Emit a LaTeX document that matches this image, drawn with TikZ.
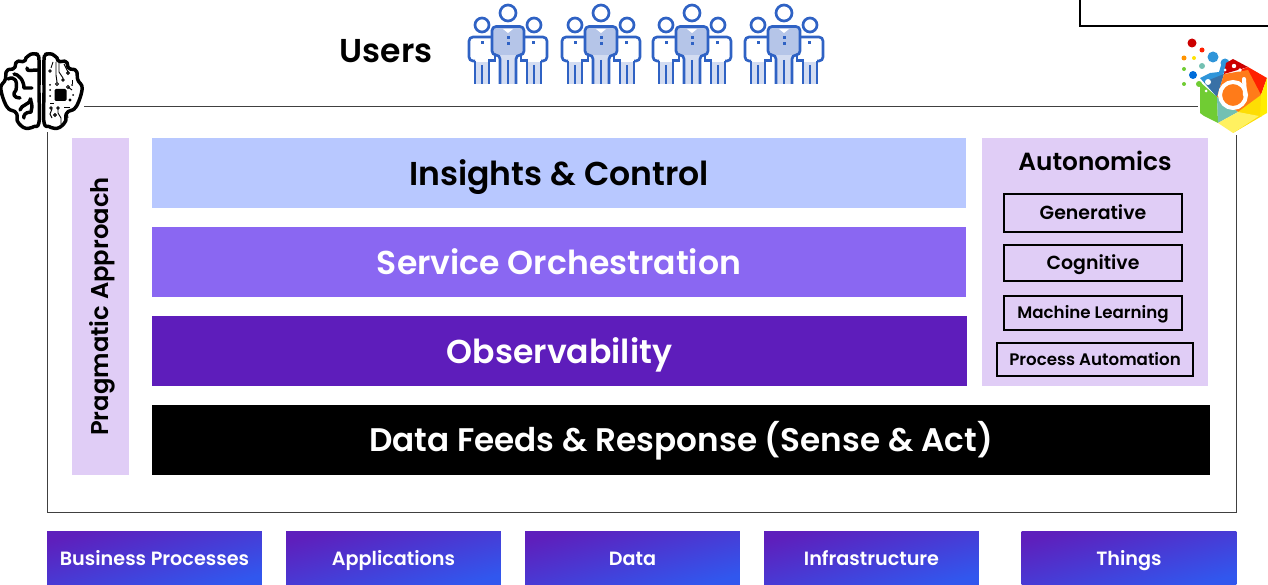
\documentclass[tikz,border=0pt]{standalone}
\usepackage{fontspec}
\usepackage{xcolor}
\setmainfont{Poppins}[BoldFont={Poppins SemiBold}]
\usetikzlibrary{arrows,positioning,shapes}
\definecolor{insightsblue}{HTML}{B8C8FF}
\definecolor{servicepurple}{HTML}{8A67F2}
\definecolor{obspurple}{HTML}{5E1DBB}
\definecolor{panellilac}{HTML}{E0CDF6}
\definecolor{gradstart}{HTML}{5E1FBC}
\definecolor{gradend}{HTML}{3157EE}
\definecolor{usersblue}{HTML}{2F62C4}
\definecolor{userslight}{HTML}{B5C5E8}
\newcommand{\txt}[1]{\fontsize{#1}{#1}\selectfont\bfseries}
\tikzset{
    textsize/.style 2 args={font=\txt{#1}, text height=#2pt, text depth=0pt},
    layerbar/.style={rectangle, inner sep=0pt, text=white, textsize={24.8}{19.4}},
    innerbox/.style={rectangle, inner sep=0pt, draw=black, line width=0.9pt, textsize={14.2}{9.9}},
    sourcebox/.style={rectangle, inner sep=0pt, minimum width=161pt, minimum height=40.5pt, text=white,
        left color=gradstart, right color=gradend, shading angle=15, textsize={14.4}{11.8}},
    teamline/.style={draw=usersblue, line width=2pt, line cap=butt},
    brainline/.style={draw=black, line width=2.6pt, line join=round, line cap=round},
    circuit/.style={draw=black, line width=0.7pt}
}
\begin{document}
\begin{tikzpicture}[x=0.75pt, y=-0.75pt]
    \useasboundingbox (0,0) rectangle (1268,585);
    \clip (0,0) rectangle (1268,585);

    \node (corner_box) [draw=black, line width=1.5pt, minimum width=225pt, minimum height=38.5pt, inner sep=0pt, shift={(1230, 0)}] {};
    \node (main_frame) [draw=black!75, line width=0.6pt, minimum width=892pt, minimum height=304.5pt, inner sep=0pt, shift={(642, 309.7)}] {};

    \node (users_label) [inner sep=0pt, textsize={24.8}{17.4}, shift={(386, 51)}]
    {
        Users
    };

    \node (pragmatic_approach) [rectangle, inner sep=0pt, fill=panellilac, minimum width=42.75pt, minimum height=252.75pt, shift={(100.5, 306.5)}] {};
    \node (pragmatic_label) [inner sep=0pt, textsize={18.2}{12.7}, text=black, rotate=90, at={(100, 306.5)}]
    {
        Pragmatic Approach
    };
    \node (insights_control) [layerbar, text=black, fill=insightsblue, minimum width=610.5pt, minimum height=52.5pt, shift={(559, 173)}]
    {
        Insights \& Control
    };
    \node (service_orchestration) [layerbar, fill=servicepurple, minimum width=610.5pt, minimum height=52.5pt, shift={(559, 262)}]
    {
        Service Orchestration
    };
    \node (observability) [layerbar, textsize={24.8}{18}, fill=obspurple, minimum width=611.25pt, minimum height=52.5pt, shift={(559.5, 351)}]
    {
        Observability
    };
    \node (data_feeds) [layerbar, textsize={24.5}{17.2}, fill=black, minimum width=793.5pt, minimum height=52.5pt, shift={(681, 440)}]
    {
        Data Feeds \& Response (Sense \& Act)
    };

    \node (autonomics_panel) [rectangle, inner sep=0pt, fill=panellilac, minimum width=169.5pt, minimum height=186pt, shift={(1095, 262)}] {};
    \node (autonomics_label) [inner sep=0pt, textsize={18.6}{14.4}, shift={(1095, 161)}]
    {
        Autonomics
    };
    \node (generative) [innerbox, minimum width=133.5pt, minimum height=28.5pt, shift={(1093, 213)}]
    {
        Generative
    };
    \node (cognitive) [innerbox, minimum width=133.5pt, minimum height=27pt, shift={(1093, 263)}]
    {
        Cognitive
    };
    \node (machine_learning) [innerbox, textsize={12.5}{8.8}, minimum width=133.5pt, minimum height=25.5pt, shift={(1093, 313)}]
    {
        Machine Learning
    };
    \node (process_automation) [innerbox, textsize={12.5}{8.8}, minimum width=147pt, minimum height=24.75pt, shift={(1095, 359.5)}]
    {
        Process Automation
    };

    \node (business_processes) [sourcebox, shift={(154.5, 558)}]
    {
        Business Processes
    };
    \node (applications) [sourcebox, shift={(393.5, 558)}]
    {
        Applications
    };
    \node (data) [sourcebox, shift={(632.5, 558)}]
    {
        Data
    };
    \node (infrastructure) [sourcebox, shift={(871.5, 558)}]
    {
        Infrastructure
    };
    \node (things) [sourcebox, shift={(1129, 558)}]
    {
        Things
    };

    % users
    \foreach \teamx in {468, 561, 652, 744} {
        \begin{scope}[shift={(\teamx, 0)}]
            \fill[userslight] (24,30) -- (26,27) -- (54,27) -- (56,30) -- (56,55) -- (24,55) -- cycle;
            \fill[userslight!60] (32,55) rectangle (48,84);
            \fill[userslight!60] (7,62) rectangle (21,84);
            \fill[userslight!60] (59,62) rectangle (73,84);
            \draw[teamline] (40,13) circle (8);
            \draw[teamline] (14,25) circle (7);
            \draw[teamline] (66,25) circle (7);
            \draw[teamline, rounded corners=3] (32,84) -- (32,55) -- (24,55) -- (24,26.5) -- (56,26.5) -- (56,55) -- (48,55) -- (48,84);
            \draw[teamline] (40,60) -- (40,84);
            \draw[teamline, rounded corners=3] (24,37) -- (1,37) -- (1,61) -- (7,61);
            \draw[teamline] (7,61) -- (7,84);
            \draw[teamline] (14,65) -- (14,84);
            \draw[teamline] (21,84) -- (21,60.5) -- (27,60.5) -- (27,55);
            \draw[teamline, rounded corners=3] (56,37) -- (79,37) -- (79,61) -- (73,61);
            \draw[teamline] (73,61) -- (73,84);
            \draw[teamline] (66,65) -- (66,84);
            \draw[teamline] (59,84) -- (59,60.5) -- (53,60.5) -- (53,55);
            \fill[white] (35,29) -- (45,29) -- (40,33) -- cycle;
            \fill[usersblue] (38.5,36) rectangle (41.5,39);
            \fill[usersblue] (38.5,42) rectangle (41.5,45);
            \fill[usersblue] (13,41) rectangle (16,44);
            \fill[usersblue] (64,41) rectangle (67,44);
        \end{scope}
    }

    % brain
    \fill[white] (-3,50) rectangle (84,132);
    \draw[brainline, rounded corners=1] plot[smooth cycle, tension=0.55] coordinates {(39,60) (37,55) (32,54) (27,57) (24,61) (17,62) (14,68) (7,71) (5,80) (1,87) (3,98) (8,108) (16,113) (18,122) (25,128) (33,127) (39,122) (39,90)};
    \draw[brainline, rounded corners=1] plot[smooth cycle, tension=0.55] coordinates {(44,60) (46,55) (51,54) (56,57) (59,61) (66,62) (69,68) (76,71) (78,80) (82,87) (80,98) (75,108) (67,113) (65,122) (58,128) (50,127) (44,122) (44,90)};
    \draw[brainline] (38,70) .. controls (30,70) and (27,72) .. (27,68);
    \draw[brainline] (8,79) .. controls (14,76) and (18,80) .. (16,90) .. controls (12,94) and (14,98) .. (20,98);
    \draw[brainline] (14,74) .. controls (18,74) and (24,80) .. (24,88) -- (32,88);
    \draw[brainline] (31,99) .. controls (28,106) and (22,104) .. (20,110);
    \draw[brainline] (30,99) .. controls (33,106) and (32,108) .. (31,112) .. controls (25,112) and (23,116) .. (24,118);
    \node (brain_chip) [rectangle, fill=black, inner sep=0pt, minimum size=9pt, rounded corners=1pt, shift={(60.5, 95)}] {};
    \draw[circuit] (56,62) -- (56,75) -- (57,82);
    \draw[circuit] (59,62) -- (59,72) -- (63,78) -- (63,80);
    \draw[circuit] (64,64) -- (68,72);
    \draw[circuit] (53,62) -- (51,68);
    \draw[circuit] (50,71) circle (1.2);
    \draw[circuit] (57,84) circle (1.5);
    \draw[circuit] (63,80) circle (1.3);
    \draw[circuit] (68,73) circle (1.4);
    \draw[circuit] (68,87) -- (72,90);
    \draw[circuit] (68,87) circle (1.5);
    \draw[circuit] (72,80) -- (72,84);
    \draw[circuit] (70,100) circle (1);
    \draw[circuit] (50,103) -- (54,103);
    \draw[circuit] (52,109) -- (50,114) -- (52,118);
    \draw[circuit] (58,109) -- (58,113) -- (61,118) -- (61,124);
    \draw[circuit] (55,115) circle (1.4);
    \draw[circuit] (58,108) circle (1.3);
    \draw[circuit] (51,108) circle (1.3);
    \draw[circuit] (64,107) -- (70,107);
    \draw[circuit] (67,112) -- (68,118);
    \fill (50,85) circle (1) (50,90) circle (1) (50,96) circle (1) (73,95) circle (1) (72,85) circle (1);

    % logo
    \fill[white] (1198,70) rectangle (1268,135);
    \fill[red!80!black] (1192,43) circle (4.5);
    \fill[red!75!orange] (1202,50) circle (2.5);
    \fill[orange!85!yellow] (1184,58) circle (2.5);
    \fill[yellow!85!orange] (1194,58) circle (2);
    \fill[cyan!70!blue!85] (1213,57) circle (5.5);
    \fill[green!55!blue!55] (1202,66) circle (3);
    \fill[green!60!yellow!60!gray] (1184,69) circle (2);
    \fill[blue!50!cyan!85!black] (1193,75) circle (4);
    \fill[green!60!yellow!60!gray] (1184,84) circle (2);
    \fill[green!60!yellow!60!gray] (1199,84) circle (3);
    \fill[cyan!70!blue!85] (1225,63) circle (4.5);
    \fill[cyan!70!blue!85] (1200,78) -- (1210,73) -- (1219,72) -- (1222,62) -- (1228,66) -- (1222,76) -- (1217,97) -- cycle;
    \fill[cyan!60!blue!75!black] (1204,82) -- (1224,74) -- (1217,97) -- cycle;
    \fill[red!80!black] (1233,59) -- (1248,67) -- (1224,74) -- (1226,63) -- cycle;
    \fill[red!75!orange] (1248,67) -- (1267,78) -- (1261,95) -- (1240,70) -- cycle;
    \fill[orange!85!red!90!white] (1224,74) -- (1248,70) -- (1261,95) -- (1259,109) -- (1238,112) -- (1217,97) -- cycle;
    \fill[yellow!80!orange] (1261,95) -- (1262,116) -- (1233,133) -- (1238,112) -- cycle;
    \fill[yellow!95!orange] (1267,78) -- (1267,113) -- (1260,117) -- (1261,95) -- cycle;
    \fill[green!60!yellow!60!gray] (1200,82) -- (1217,97) -- (1218,123) -- (1204,116) -- (1200,113) -- cycle;
    \fill[green!55!blue!55] (1217,97) -- (1238,112) -- (1218,123) -- cycle;
    \fill[yellow!60!white!95!orange] (1238,112) -- (1259,116) -- (1233,133) -- (1218,123) -- cycle;
    \draw[white, line width=3pt] (1233,95) circle (13);
    \draw[white, line width=3pt, line cap=round] (1245,95) -- (1244,79);
    \fill[white] (1208,82) circle (3) (1206,91) circle (1.5) (1234,66) circle (2.2) (1240,70) circle (1.8) (1225,70) circle (1.5);
\end{tikzpicture}
\end{document}
